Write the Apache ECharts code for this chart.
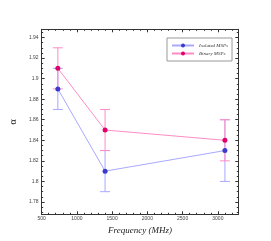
<!DOCTYPE html>
<html><head><meta charset="utf-8">
<script src="https://cdn.jsdelivr.net/npm/echarts@6/dist/echarts.min.js"></script>
<style>html,body{margin:0;padding:0;background:#fff}#c{width:271px;height:241px}</style>
</head><body><div id="c"></div>
<script>
const freqs = [730, 1400, 3100];
const isolated = [1.89, 1.81, 1.83];
const isolatedErr = [0.02, 0.02, 0.03];
const binary = [1.91, 1.85, 1.84];
const binaryErr = [0.02, 0.02, 0.02];
const seriesNames = ['Isolated MSPs', 'Binary MSPs'];

const blueLine = '#a8a8ff', blueMark = '#3a3acc';
const pinkLine = '#ff8cc6', pinkMark = '#e0006a';

function errData(vals, errs) {
  return freqs.map((f, i) => [f, vals[i] - errs[i], vals[i] + errs[i]]);
}
function errSeries(vals, errs, color) {
  return {
    type: 'custom', silent: true, z: 1,
    data: errData(vals, errs),
    renderItem: function (params, api) {
      const x = api.value(0);
      const lo = api.coord([x, api.value(1)]);
      const hi = api.coord([x, api.value(2)]);
      const w = 5;
      const st = { stroke: color, lineWidth: 1 };
      return { type: 'group', children: [
        { type: 'line', shape: { x1: lo[0], y1: lo[1], x2: hi[0], y2: hi[1] }, style: st },
        { type: 'line', shape: { x1: lo[0] - w, y1: lo[1], x2: lo[0] + w, y2: lo[1] }, style: st },
        { type: 'line', shape: { x1: hi[0] - w, y1: hi[1], x2: hi[0] + w, y2: hi[1] }, style: st }
      ]};
    }
  };
}
const axisCommon = {
  axisLine: { show: true, lineStyle: { color: '#333', width: 1 } },
  axisTick: { show: true, inside: true, length: 3, lineStyle: { color: '#333' } },
  minorTick: { show: true, length: 1.5, lineStyle: { color: '#333' } },
  splitLine: { show: false }
};
const plain = v => String(Math.round(v * 1000) / 1000);
const chart = echarts.init(document.getElementById('c'));
chart.setOption({
  animation: false,
  grid: { left: 35.5, right: 32.7, top: 29.3, bottom: 26.7 },
  legend: {
    orient: 'vertical', left: 167, top: 38, width: 64,
    padding: [5, 4, 5, 4], itemGap: 3, itemWidth: 22, itemHeight: 5,
    borderColor: '#999', borderWidth: 1,
    textStyle: { fontSize: 5, fontStyle: 'italic', fontFamily: 'Liberation Serif', color: '#333' },
    data: seriesNames
  },
  xAxis: [
    Object.assign({}, axisCommon, {
      type: 'value', min: 500, max: 3290, interval: 500, position: 'bottom',
      minorTick: Object.assign({}, axisCommon.minorTick, { splitNumber: 5 }),
      axisLabel: { fontSize: 5, color: '#444', margin: 2, showMaxLabel: false, formatter: plain },
      name: 'Frequency (MHz)', nameLocation: 'middle', nameGap: 8,
      nameTextStyle: { fontSize: 9, fontStyle: 'italic', fontFamily: 'Liberation Serif', color: '#222' }
    }),
    Object.assign({}, axisCommon, {
      type: 'value', min: 500, max: 3290, interval: 500, position: 'top',
      minorTick: Object.assign({}, axisCommon.minorTick, { splitNumber: 5 }),
      axisLabel: { show: false }
    })
  ],
  yAxis: [
    Object.assign({}, axisCommon, {
      type: 'value', min: 1.768, max: 1.948, splitNumber: 9, position: 'left',
      minorTick: Object.assign({}, axisCommon.minorTick, { splitNumber: 4 }),
      axisLabel: { fontSize: 5, color: '#444', margin: 3, showMinLabel: false, showMaxLabel: false, formatter: plain },
      name: 'α', nameLocation: 'middle', nameGap: 9, nameRotate: 90,
      nameTextStyle: { fontSize: 10, fontFamily: 'Liberation Serif', color: '#222' }
    }),
    Object.assign({}, axisCommon, {
      type: 'value', min: 1.768, max: 1.948, splitNumber: 9, position: 'right',
      minorTick: Object.assign({}, axisCommon.minorTick, { splitNumber: 4 }),
      axisLabel: { show: false }
    })
  ],
  series: [
    errSeries(isolated, isolatedErr, blueLine),
    errSeries(binary, binaryErr, pinkLine),
    {
      name: seriesNames[0], type: 'line', z: 3,
      data: freqs.map((f, i) => [f, isolated[i]]),
      symbol: 'circle', symbolSize: 5,
      lineStyle: { color: blueLine, width: 1 },
      itemStyle: { color: blueMark }
    },
    {
      name: seriesNames[1], type: 'line', z: 4,
      data: freqs.map((f, i) => [f, binary[i]]),
      symbol: 'circle', symbolSize: 5,
      lineStyle: { color: pinkLine, width: 1 },
      itemStyle: { color: pinkMark }
    }
  ]
});
</script></body></html>
